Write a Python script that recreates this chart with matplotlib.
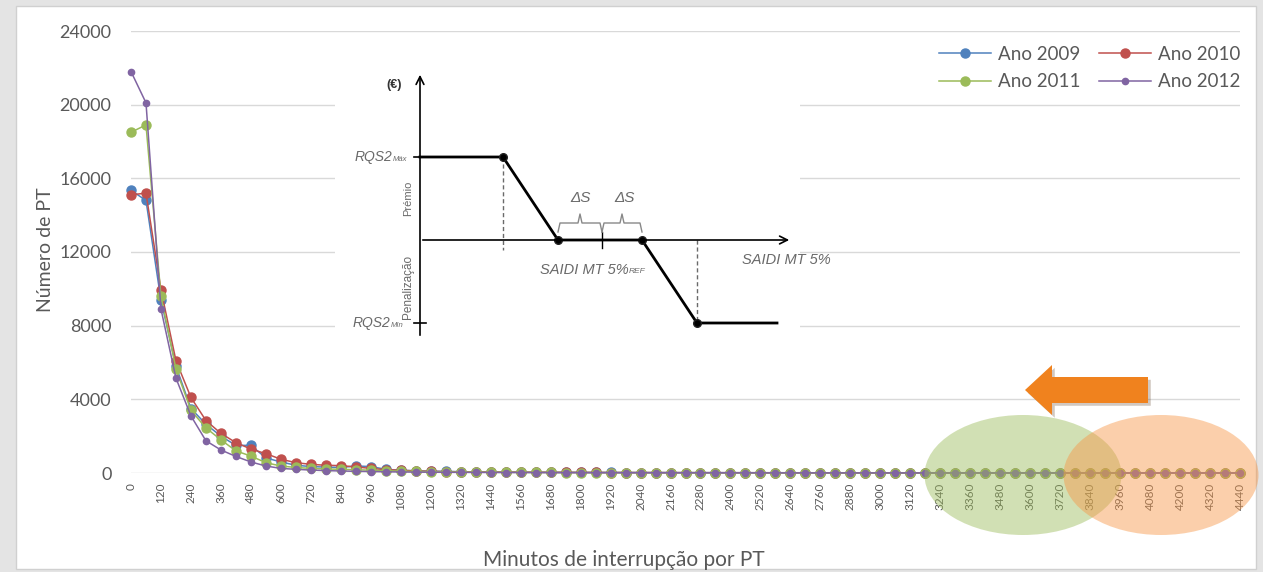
import matplotlib
matplotlib.use("Agg")
import matplotlib.pyplot as plt
from matplotlib.patches import Ellipse, FancyArrow, Rectangle
import matplotlib.patheffects as pe

plt.rcParams['font.family'] = ['Lato', 'DejaVu Sans']

# categories: minutes of interruption (step 60)
minutos = list(range(0, 4441, 60))

ano_2009 = [15350, 14800, 9380, 5800, 3500, 2650, 2000, 1500, 1500, 820, 600, 420, 350, 320, 300, 380, 350, 200, 150, 120,
            100, 85, 70, 60, 55, 50, 45, 40, 38, 35, 32, 30, 28, 26, 25, 24, 22, 20, 20, 18,
            17, 16, 15, 14, 14, 13, 12, 12, 11, 10, 10, 9, 9, 8, 8, 8, 7, 7, 7, 6,
            6, 6, 5, 5, 5, 5, 4, 4, 4, 4, 3, 3, 3, 3, 3]
ano_2010 = [15100, 15200, 9950, 6100, 4100, 2850, 2150, 1650, 1300, 1050, 750, 560, 470, 420, 400, 330, 250, 180, 150, 110,
            90, 75, 65, 58, 52, 47, 43, 40, 37, 34, 31, 29, 27, 25, 24, 22, 21, 20, 19, 18,
            17, 16, 15, 14, 13, 13, 12, 11, 11, 10, 10, 9, 9, 8, 8, 8, 7, 7, 7, 6,
            6, 6, 6, 5, 5, 5, 5, 4, 4, 4, 4, 4, 3, 3, 3]
ano_2011 = [18500, 18900, 9600, 5650, 3400, 2450, 1800, 1200, 920, 560, 380, 300, 250, 220, 200, 180, 150, 120, 100, 85,
            70, 60, 52, 46, 41, 37, 33, 30, 28, 26, 24, 22, 20, 19, 18, 17, 16, 15, 14, 13,
            12, 12, 11, 10, 10, 9, 9, 8, 8, 8, 7, 7, 7, 6, 6, 6, 5, 5, 5, 5,
            4, 4, 4, 4, 4, 3, 3, 3, 3, 3, 2, 2, 2, 2, 2]
ano_2012 = [21800, 20100, 8900, 5150, 3100, 1750, 1250, 900, 600, 380, 250, 200, 160, 130, 110, 90, 80, 65, 55, 48,
            42, 37, 33, 30, 27, 25, 23, 21, 19, 18, 17, 16, 15, 14, 13, 12, 11, 11, 10, 10,
            9, 9, 8, 8, 7, 7, 7, 6, 6, 6, 5, 5, 5, 5, 4, 4, 4, 4, 4, 3,
            3, 3, 3, 3, 3, 2, 2, 2, 2, 2, 2, 2, 1, 1, 1]

series = [("Ano 2009", ano_2009, "#4F81BD", 6.5),
          ("Ano 2010", ano_2010, "#C0504D", 6.5),
          ("Ano 2011", ano_2011, "#9BBB59", 6.5),
          ("Ano 2012", ano_2012, "#8064A2", 4.5)]

yticks = [0, 4000, 8000, 12000, 16000, 20000, 24000]

txt = "#595959"
W, H = 1263, 572
fig = plt.figure(figsize=(W / 100, H / 100), dpi=100, facecolor="#E4E4E4")
fig.add_artist(Rectangle((16 / W, 1 - 569 / H), 1240 / W, 563 / H, transform=fig.transFigure,
                         facecolor="white", edgecolor="#D0D0D0", lw=1, zorder=-1))

ax = fig.add_axes([131 / W, 1 - 473 / H, 1109 / W, 442 / H])
ax.set_facecolor("none")
idx = list(range(len(minutos)))
handles = {}
for name, vals, col, ms in series:
    h, = ax.plot(idx, vals, color=col, lw=1.1, marker="o", ms=ms, label=name, clip_on=False, zorder=3)
    handles[name] = h

ax.set_xlim(0, len(minutos) - 1)
ax.set_ylim(0, 24000)
ax.set_yticks(yticks)
ax.set_yticklabels([str(v) for v in yticks])
ax.set_xticks(idx[::2])
ax.set_xticklabels([str(m) for m in minutos[::2]], rotation=90)
ax.grid(axis="y", color="#D9D9D9", lw=1)
ax.set_axisbelow(True)
for s in ax.spines.values():
    s.set_visible(False)
ax.tick_params(axis="y", length=0, pad=14, labelsize=13, labelcolor=txt)
ax.tick_params(axis="x", length=0, pad=7, labelsize=8.5, labelcolor=txt)
ax.set_ylabel("Número de PT", fontsize=14, color=txt)
ax.yaxis.set_label_coords(-0.069, 0.505)
ax.set_xlabel("Minutos de interrupção por PT", fontsize=15, color=txt)
ax.xaxis.set_label_coords(0.444, -0.174)

order = ["Ano 2009", "Ano 2011", "Ano 2010", "Ano 2012"]
ax.legend([handles[n] for n in order], order, ncol=2, frameon=False, loc="upper right",
          bbox_to_anchor=(1244 / W, 1 - 42 / H), bbox_transform=fig.transFigure,
          fontsize=13.5, labelcolor=txt, handlelength=2.8, columnspacing=1.0,
          handletextpad=0.35, labelspacing=0.55, borderaxespad=0, borderpad=0.2)

# inset schematic (pixel coordinates of the pasted picture)
ins = fig.add_axes([335 / W, 1 - 345 / H, 465 / W, 285 / H])
ins.set_xlim(335, 800)
ins.set_ylim(345, 60)
ins.axis("off")
ins.add_patch(Rectangle((335, 60), 465, 285, facecolor="white", edgecolor="none", zorder=0))
gray = "#6A6A6A"
ins.annotate("", xy=(420, 72), xytext=(420, 338),
             arrowprops=dict(arrowstyle="->", color="black", lw=1.2, mutation_scale=14))
ins.annotate("", xy=(792, 240), xytext=(420, 240),
             arrowprops=dict(arrowstyle="->", color="black", lw=1.2, mutation_scale=14))
for yy in (157, 323):
    ins.plot([414, 426], [yy, yy], color="black", lw=1.2)
ins.plot([602, 602], [232, 248], color="black", lw=1)
ins.plot([503, 503], [157, 250], color=gray, lw=1, ls=(0, (3, 2)))
ins.plot([697, 697], [240, 323], color=gray, lw=1, ls=(0, (3, 2)))
cx = [420, 503, 558, 642, 697, 777]
cy = [157, 157, 240, 240, 323, 323]
ins.plot(cx, cy, color="black", lw=2)
ins.plot(cx[1:5], cy[1:5], ls="none", marker="o", ms=5.5, color="black", mec="#222222")


def brace(x0, x1, y):
    xm = (x0 + x1) / 2
    ins.plot([x0, x0 + 2, xm - 2, xm, xm + 2, x1 - 2, x1],
             [y + 9, y, y, y - 9, y, y, y + 9], color="#888888", lw=1)


brace(558, 602, 223)
brace(602, 642, 223)
it = dict(style="italic", color=gray, family=["Liberation Sans", "DejaVu Sans"])
ins.text(580, 198, "ΔS", fontsize=11, ha="center", va="center", **it)
ins.text(624, 198, "ΔS", fontsize=11, ha="center", va="center", **it)
t = ins.text(540, 270, "SAIDI MT 5%", fontsize=10.5, ha="left", va="center", **it)
ins.annotate("REF", xy=(1, 0.15), xycoords=t, fontsize=6, va="bottom", **it)
ins.text(742, 260, "SAIDI MT 5%", fontsize=10.5, ha="left", va="center", **it)
t = ins.text(355, 157, "RQS2", fontsize=10, ha="left", va="center", **it)
ins.annotate("Máx", xy=(1, 0.1), xycoords=t, fontsize=5.5, va="bottom", **it)
t = ins.text(353, 323, "RQS2", fontsize=10, ha="left", va="center", **it)
ins.annotate("Mín", xy=(1, 0.1), xycoords=t, fontsize=5.5, va="bottom", **it)
ins.text(394, 85, "(€)", fontsize=9, ha="center", va="center", color="#333333", weight="bold",
         family=["Liberation Sans", "DejaVu Sans"])
ins.text(408, 198, "Prémio", fontsize=8, rotation=90, ha="center", va="center", color=gray,
         family=["Liberation Sans", "DejaVu Sans"])
ins.text(408, 287, "Penalização", fontsize=8.5, rotation=90, ha="center", va="center", color=gray,
         family=["Liberation Sans", "DejaVu Sans"])

# overlay: highlight ellipses and arrow
ov = fig.add_axes([0, 0, 1, 1], facecolor="none")
ov.set_xlim(0, W)
ov.set_ylim(H, 0)
ov.axis("off")
ov.add_patch(Ellipse((1023, 475), 197, 120, facecolor="#9BBB59", alpha=0.45, edgecolor="none"))
ov.add_patch(Ellipse((1161, 475), 195, 120, facecolor="#F79646", alpha=0.45, edgecolor="none"))
arr = FancyArrow(1148, 390, -123, 0, width=26, head_width=50, head_length=27,
                 length_includes_head=True, facecolor="#F0821E", edgecolor="none")
arr.set_path_effects([pe.SimplePatchShadow(offset=(2, -2), alpha=0.25), pe.Normal()])
ov.add_patch(arr)

fig.savefig("out.png", dpi=100, facecolor=fig.get_facecolor())
